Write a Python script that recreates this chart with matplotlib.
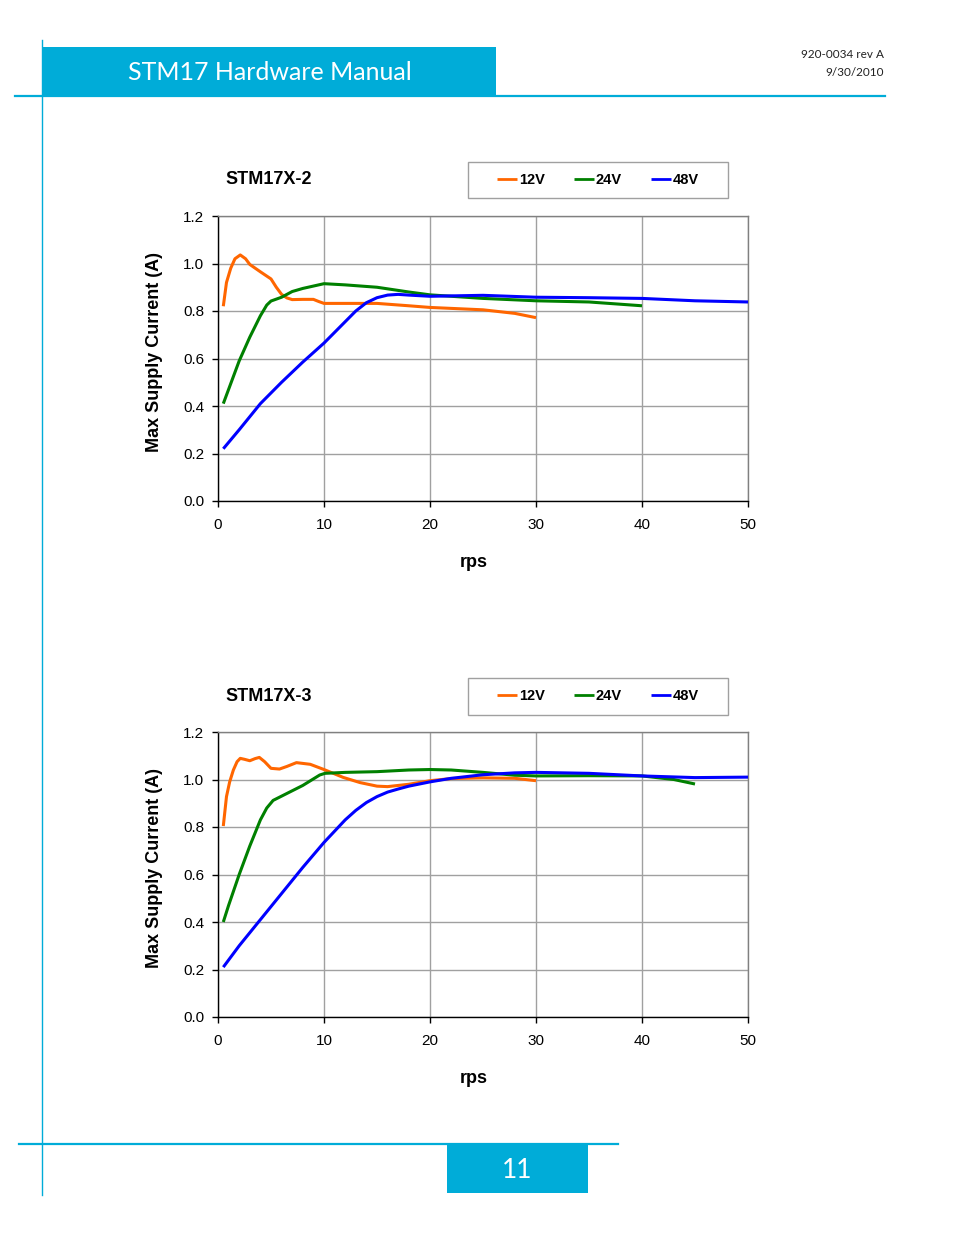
import matplotlib
matplotlib.use("Agg")
import matplotlib.pyplot as plt
from matplotlib.patches import Rectangle

# ---------------- data ----------------
titles = ["STM17X-2", "STM17X-3"]
series_names = ["12V", "24V", "48V"]

c1_x12 = [0.5, 0.8, 1.2, 1.6, 2.1, 2.6, 3.0, 4.0, 5.0, 5.5, 6.0, 6.5, 7.0, 8.0, 9.0, 9.5, 10.0, 12.0, 15.0, 18.0, 20.0, 25.0, 28.0, 30.0]
c1_y12 = [0.82, 0.92, 0.98, 1.02, 1.036, 1.02, 0.996, 0.965, 0.935, 0.90, 0.87, 0.855, 0.848, 0.849, 0.849, 0.84, 0.832, 0.832, 0.832, 0.822, 0.815, 0.805, 0.79, 0.772]

c1_x24 = [0.5, 1, 2, 3, 4, 4.6, 5.0, 5.5, 6.0, 7.0, 8.0, 9.0, 10.0, 12.0, 15.0, 18.0, 20.0, 25.0, 30.0, 35.0, 40.0]
c1_y24 = [0.41, 0.47, 0.59, 0.69, 0.78, 0.825, 0.842, 0.85, 0.858, 0.882, 0.895, 0.905, 0.915, 0.91, 0.90, 0.88, 0.868, 0.853, 0.843, 0.838, 0.822]

c1_x48 = [0.5, 2, 4, 6, 8, 10, 11, 12, 13, 14, 15, 16, 17, 18, 20, 25, 30, 35, 40, 45, 50]
c1_y48 = [0.22, 0.30, 0.41, 0.50, 0.585, 0.665, 0.71, 0.755, 0.80, 0.835, 0.856, 0.867, 0.87, 0.867, 0.862, 0.866, 0.858, 0.856, 0.853, 0.843, 0.838]

c2_x12 = [0.5, 0.8, 1.1, 1.45, 1.8, 2.1, 2.5, 3.0, 3.5, 3.9, 4.4, 5.0, 5.8, 6.5, 7.4, 8.7, 10.0, 11.8, 13.4, 15.0, 16.0, 18.0, 20.0, 22.0, 25.0, 28.0, 30.0]
c2_y12 = [0.804, 0.928, 0.99, 1.04, 1.075, 1.089, 1.085, 1.079, 1.088, 1.093, 1.075, 1.047, 1.044, 1.055, 1.071, 1.064, 1.042, 1.009, 0.987, 0.972, 0.97, 0.98, 0.995, 1.004, 1.007, 1.005, 0.995]

c2_x24 = [0.5, 1, 2, 3, 4, 4.6, 5.2, 6, 8, 9.6, 10.1, 12, 15, 18, 20, 22, 25, 28, 30, 35, 40, 43, 45]
c2_y24 = [0.40, 0.47, 0.60, 0.72, 0.83, 0.88, 0.912, 0.93, 0.975, 1.019, 1.026, 1.03, 1.033, 1.04, 1.042, 1.04, 1.03, 1.018, 1.015, 1.016, 1.015, 1.0, 0.981]

c2_x48 = [0.5, 2, 4, 6, 8, 10, 12, 13, 14, 15, 16, 17, 18, 20, 22, 25, 28, 30, 35, 40, 45, 50]
c2_y48 = [0.21, 0.30, 0.41, 0.52, 0.63, 0.735, 0.83, 0.87, 0.903, 0.928, 0.947, 0.96, 0.972, 0.99, 1.005, 1.02, 1.028, 1.03, 1.026, 1.015, 1.008, 1.01]

x_ticks = [0, 10, 20, 30, 40, 50]
y_ticks = [0.0, 0.2, 0.4, 0.6, 0.8, 1.0, 1.2]

header_title = "STM17 Hardware Manual"
doc_id = "920-0034 rev A"
doc_date = "9/30/2010"
page_no = "11"

# ---------------- style ----------------
W, H = 954, 1235
colors = ["#FF6600", "#008000", "#0000FF"]
blue = "#00ACD8"
plt.rcParams["font.family"] = ["Liberation Sans", "DejaVu Sans"]
hdr_font = ["Lato", "DejaVu Sans"]

fig = plt.figure(figsize=(W / 100, H / 100), dpi=100)

def fx(px):
    return px / W

def fy(py):
    return 1 - py / H

# page decorations (figure pixel coords)
deco = fig.add_axes([0, 0, 1, 1])
deco.set_xlim(0, W)
deco.set_ylim(H, 0)
deco.axis("off")
deco.add_patch(Rectangle((42, 47), 454, 49, color=blue, lw=0))
deco.plot([15, 885], [96, 96], color=blue, lw=1.6)
deco.plot([42, 42], [40, 1195], color=blue, lw=1.0)
deco.text(270, 79.5, header_title, color="white", fontsize=18, ha="center", va="baseline", family=hdr_font)
deco.text(884, 58.5, doc_id, fontsize=8.5, ha="right", va="baseline", family=hdr_font, color="#222222")
deco.text(884, 75.5, doc_date, fontsize=8.5, ha="right", va="baseline", family=hdr_font, color="#222222")
deco.plot([19, 618], [1144, 1144], color=blue, lw=1.6)
deco.add_patch(Rectangle((447, 1144), 141, 49, color=blue, lw=0))
deco.text(517, 1177.7, page_no, color="white", fontsize=19, ha="center", va="baseline", family=hdr_font)

charts = [
    (titles[0], [(c1_x12, c1_y12), (c1_x24, c1_y24), (c1_x48, c1_y48)], 216, 501, 162, 198),
    (titles[1], [(c2_x12, c2_y12), (c2_x24, c2_y24), (c2_x48, c2_y48)], 732, 1017, 678, 715),
]

for title, data, top, bot, ltop, lbot in charts:
    ax = fig.add_axes([fx(218), fy(bot), fx(748) - fx(218), fy(top) - fy(bot)])
    for (xs, ys), col, name in zip(data, colors, series_names):
        ax.plot(xs, ys, color=col, lw=2.2, label=name, solid_capstyle="butt", zorder=3)
    ax.set_xlim(0, 50)
    ax.set_ylim(0, 1.2)
    ax.set_xticks(x_ticks)
    ax.set_yticks(y_ticks)
    ax.set_yticklabels([f"{v:.1f}" for v in y_ticks])
    ax.grid(True, color="#a0a0a0", lw=1.0, zorder=0)
    ax.set_axisbelow(True)
    for s in ["left", "bottom"]:
        ax.spines[s].set_color("black")
        ax.spines[s].set_linewidth(1.0)
    for s in ["top", "right"]:
        ax.spines[s].set_color("#808080")
        ax.spines[s].set_linewidth(1.0)
    ax.tick_params(axis="both", labelsize=11, length=4, width=1, direction="out")
    ax.tick_params(axis="x", pad=8)
    ax.tick_params(axis="y", pad=6)
    ax.set_ylabel("Max Supply Current (A)", fontsize=13, fontweight="bold")
    ax.yaxis.set_label_coords(-(218 - 163) / 530, 149 / 285)
    ax.set_xlabel("rps", fontsize=13, fontweight="bold")
    ax.xaxis.set_label_coords((474 - 218) / 530, -53 / 285)
    fig.text(fx(225), fy((ltop + lbot) / 2), title, fontsize=13, fontweight="bold", ha="left", va="center")
    leg = ax.legend(loc="center", ncol=3,
                    bbox_to_anchor=(fx(468), fy(lbot), fx(728) - fx(468), fy(ltop) - fy(lbot)),
                    bbox_transform=fig.transFigure, frameon=False,
                    prop={"weight": "bold", "size": 10.5}, handlelength=1.37,
                    handletextpad=0.12, columnspacing=2.0, borderaxespad=0, borderpad=0)
    for lh in leg.get_lines():
        lh.set_linewidth(2.0)
    deco.add_patch(Rectangle((468, ltop), 260, lbot - ltop, fill=False, edgecolor="#a0a0a0", lw=1.0))

fig.savefig("out.png", dpi=100)
